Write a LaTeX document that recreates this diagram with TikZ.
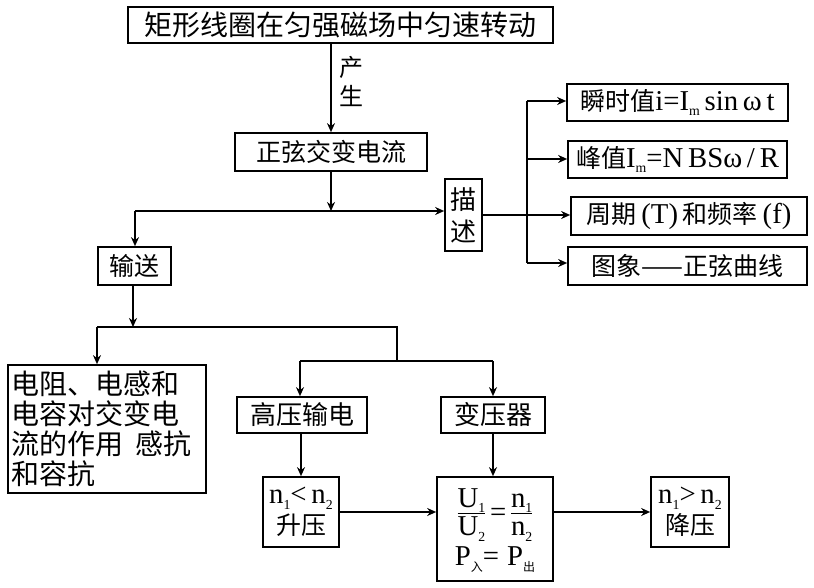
\documentclass[tikz,border=0pt]{standalone}
\usepackage{fontspec}
\setmainfont{Noto Sans CJK SC}
\newfontfamily\cjk{Noto Sans CJK SC}
\newfontfamily\lat[Scale=1.15]{Liberation Serif}
\usetikzlibrary{arrows.meta}
\newcommand\lsub[1]{\raisebox{-0.45ex}{\fontsize{12}{12}\selectfont #1}}
\newcommand\myfr[2]{\begin{tabular}[c]{@{}c@{}}#1\\[-3pt]\hline\noalign{\vskip0pt}#2\end{tabular}}
\setlength\arrayrulewidth{1.3pt}
\tikzset{
  bx/.style={draw, line width=1.7pt, inner sep=0pt, align=center},
  arr/.style={-{Stealth[length=9pt,width=8pt]}, line width=1.5pt},
  ln/.style={line width=1.5pt},
  thk/.style={line width=2.6pt}
}
\begin{document}
\begin{tikzpicture}[x=1pt,y=-1pt]
\useasboundingbox[fill=white] (0,0) rectangle (814,588);
% boxes
\node[bx, minimum width=425pt, minimum height=36pt, font=\fontsize{28}{30}\selectfont] (top) at (340.5,25) {矩形线圈在匀强磁场中匀速转动};
\node[bx, minimum width=192pt, minimum height=38pt, font=\fontsize{25}{30}\selectfont] (sine) at (331,152) {正弦交变电流};
\node[bx, minimum width=37pt, minimum height=72pt, font=\fontsize{26}{32}\selectfont] (desc) at (463.5,215) {描\\述};
\node[bx, minimum width=221pt, minimum height=37pt, font=\fontsize{25}{30}\selectfont] (inst) at (677.5,102.5) {瞬时值{\lat i=I\lsub{m}\,sin\,ω\,t}};
\node[bx, minimum width=219pt, minimum height=37pt, font=\fontsize{25}{30}\selectfont] (peak) at (677.5,159.5) {峰值{\lat I\lsub{m}=N\,BSω\,/\,R}};
\node[bx, minimum width=236pt, minimum height=38pt, font=\fontsize{25}{30}\selectfont] (period) at (689,216) {周期{\lat\,(T)\,}和频率{\lat\,(f)}};
\node[bx, minimum width=239pt, minimum height=38pt, font=\fontsize{25}{30}\selectfont] (graph) at (687.5,266) {图象——正弦曲线};
\node[bx, minimum width=73pt, minimum height=38pt, font=\fontsize{25}{30}\selectfont] (trans) at (134.5,266) {输送};
\node[bx, minimum width=198pt, minimum height=128pt, font=\fontsize{28}{30}\selectfont, align=left, text width=190pt] (resist) at (107,429) {电阻、电感和\\电容对交变电\\流的作用\hspace{0.4em}感抗\\和容抗};
\node[bx, minimum width=130pt, minimum height=36pt, font=\fontsize{26}{30}\selectfont] (hv) at (302,415) {高压输电};
\node[bx, minimum width=104pt, minimum height=36pt, font=\fontsize{26}{30}\selectfont] (xfmr) at (493,415) {变压器};
\node[bx, minimum width=76pt, minimum height=70pt, font=\fontsize{25}{31}\selectfont] (up) at (301,512) {{\lat n\lsub{1}<\,n\lsub{2}}\\升压};
\node[bx, minimum width=116pt, minimum height=104pt, font=\fontsize{25}{30}\selectfont] (form) at (495,529) {\lat\myfr{U\lsub{1}}{U\lsub{2}}\,=\,\myfr{n\lsub{1}}{n\lsub{2}}\\[1pt]\lat P\lsub{\cjk 入}=\;P\lsub{\cjk 出}};
\node[bx, minimum width=78pt, minimum height=70pt, font=\fontsize{25}{31}\selectfont] (down) at (690,512) {{\lat n\lsub{1}>\,n\lsub{2}}\\降压};
% label
\node[font=\fontsize{24}{29}\selectfont, align=center, inner sep=0pt] (gen) at (351,81) {产\\生};
% connectors
\draw[arr] (top.south -| sine.north) -- (sine.north);
\coordinate (j1) at (331,211);
\draw[arr] (sine.south) -- (j1);
\coordinate (h1) at (135,211);
\draw[thk] (h1) -- (j1);
\draw[thk,-{Stealth[length=9pt,width=8pt]}] (j1) -- (j1 -| desc.west);
\draw[arr, line width=2pt] (h1) -- (h1 |- trans.north);
\draw[ln] (desc.east) -- (527,215);
\coordinate (v1) at (527,101);
\coordinate (v2) at (527,159);
\coordinate (v3) at (527,215);
\coordinate (v4) at (527,263);
\draw[thk] (v1) -- (v4);
\draw[arr] (v1) -- (v1 -| inst.west);
\draw[arr] (v2) -- (v2 -| peak.west);
\draw[arr] (v3) -- (v3 -| period.west);
\draw[arr] (v4) -- (v4 -| graph.west);
\coordinate (h2) at (133,327);
\draw[arr, line width=2pt] (trans.south -| h2) -- (h2);
\coordinate (h2l) at (97,327);
\coordinate (h2r) at (397,327);
\draw[thk] (h2l) -- (h2r) -- (397,361);
\draw[arr, line width=2pt] (h2l) -- (h2l |- resist.north);
\coordinate (h3l) at (300,361);
\coordinate (h3r) at (493,361);
\draw[ln] (h3l) -- (h3r);
\draw[arr, line width=2.2pt] (h3l) -- (h3l |- hv.north);
\draw[arr] (h3r) -- (xfmr.north);
\draw[arr] (hv.south -| up.north) -- (up.north);
\draw[arr] (xfmr.south) -- (xfmr.south |- form.north);
\draw[arr] (up.east) -- (up.east -| form.west);
\draw[arr] (form.east |- down.west) -- (down.west);
\end{tikzpicture}
\end{document}
